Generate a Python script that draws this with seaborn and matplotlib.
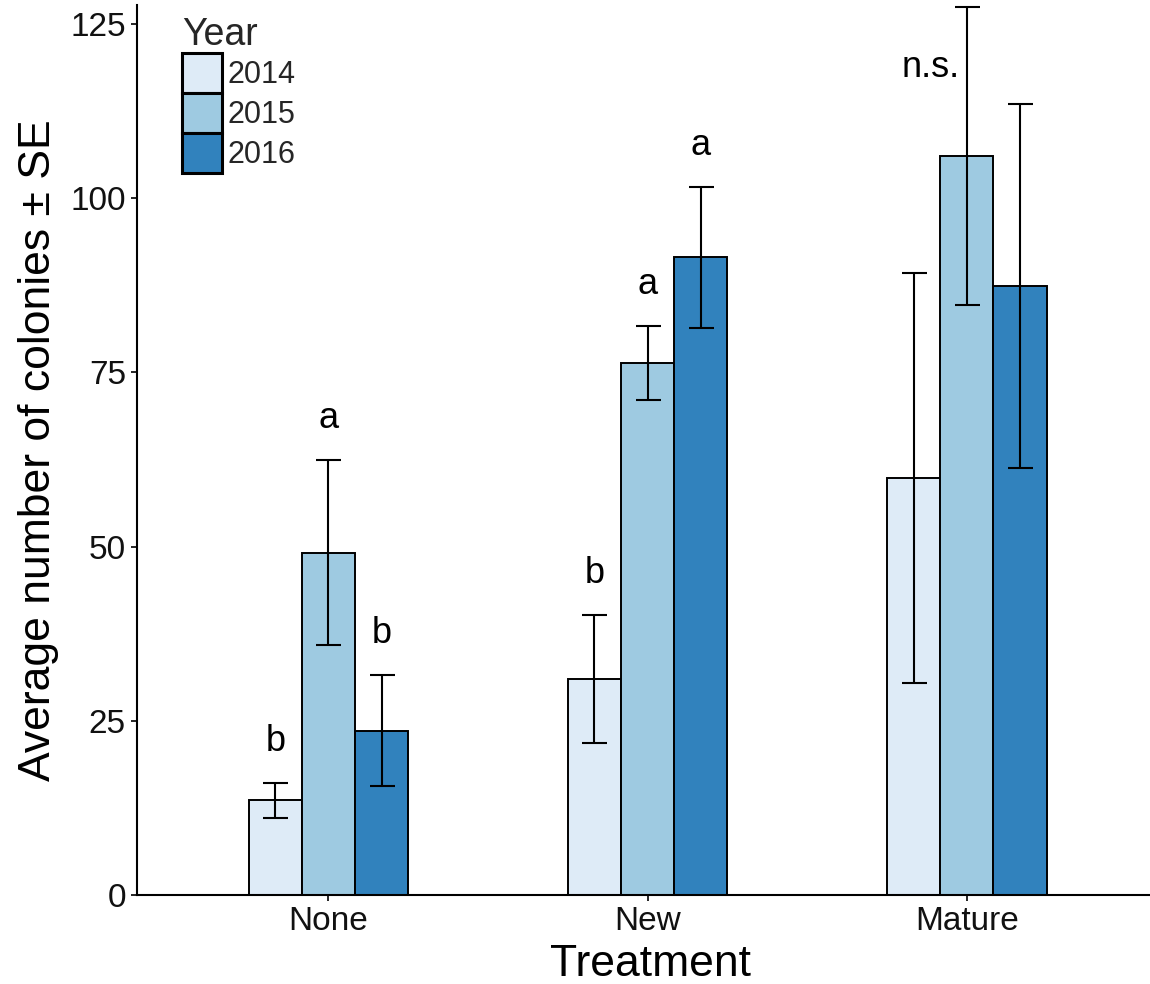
import numpy as np
import pandas as pd
import matplotlib
matplotlib.use("Agg")
import matplotlib.pyplot as plt
import seaborn as sns
from matplotlib.patches import Patch

# ---- data ----
treatments = ["None", "New", "Mature"]
years = ["2014", "2015", "2016"]
means_2014 = [13.6, 31.0, 59.8]
means_2015 = [49.1, 76.3, 106.0]
means_2016 = [23.6, 91.5, 87.4]
se_2014 = [2.5, 9.2, 29.4]
se_2015 = [13.3, 5.3, 21.4]
se_2016 = [8.0, 10.1, 26.1]
letters_2014 = ["b", "b", ""]
letters_2015 = ["a", "a", ""]
letters_2016 = ["b", "a", ""]
group_notes = ["", "", "n.s."]
yticks = [0, 25, 50, 75, 100, 125]
colors = ["#DEEBF7", "#9ECAE1", "#3182BD"]

sns.set_theme(style="white")
plt.rcParams["font.family"] = ["Liberation Sans", "DejaVu Sans"]

rows = []
for yr, m, s, l in zip(years, [means_2014, means_2015, means_2016],
                       [se_2014, se_2015, se_2016],
                       [letters_2014, letters_2015, letters_2016]):
    for t, mv, sv, lv in zip(treatments, m, s, l):
        rows.append({"Treatment": t, "Year": yr, "Mean": mv, "SE": sv, "Letter": lv})
df = pd.DataFrame(rows)

W, H = 1150, 984
fig = plt.figure(figsize=(W / 100, H / 100), dpi=100)
ax = fig.add_axes([137 / W, 89 / H, (W - 137) / W, 890 / H])

sns.barplot(data=df, x="Treatment", y="Mean", hue="Year", order=treatments,
            hue_order=years, palette=colors, saturation=1, width=0.5,
            edgecolor="black", linewidth=1.4, errorbar=None, legend=False, ax=ax)

# bar centres from the drawn patches (sorted left to right)
bars = sorted([p for p in ax.patches if p.get_height() > 0],
              key=lambda p: p.get_x())
order = []
for t in treatments:
    for yr in years:
        order.append(df[(df.Treatment == t) & (df.Year == yr)].iloc[0])
xc = np.array([b.get_x() + b.get_width() / 2 for b in bars])
mv = np.array([r.Mean for r in order])
sv = np.array([r.SE for r in order])
lv = [r.Letter for r in order]

ax.errorbar(xc, mv, yerr=sv, fmt="none", ecolor="black", elinewidth=1.5,
            capsize=9, capthick=1.5, zorder=5)

for x, m, s, l in zip(xc, mv, sv, lv):
    if l:
        ax.text(x, m + s + 4.6, l, ha="center", va="baseline", fontsize=26,
                color="black")

for gi, note in enumerate(group_notes):
    if note:
        gx = xc[gi * 3:(gi + 1) * 3].mean()
        ax.text(gx - 0.113, 117.4, note, ha="center", va="baseline",
                fontsize=26, color="black")

ax.set_xlim(-0.6, 2.574)
ax.set_ylim(0, 127.7)
ax.set_yticks(yticks)
ax.set_yticklabels([str(v) for v in yticks])

for sp in ["top", "right"]:
    ax.spines[sp].set_visible(False)
for sp in ["left", "bottom"]:
    ax.spines[sp].set_color("black")
    ax.spines[sp].set_linewidth(1.5)

ax.tick_params(axis="both", which="major", labelsize=24, length=4, width=1.2,
               color="black", labelcolor="#111111", direction="out", pad=4,
               bottom=True, left=True)

ax.set_xlabel("Treatment", fontsize=32, labelpad=0, color="black")
ax.set_ylabel("Average number of colonies \u00b1 SE", fontsize=32, labelpad=8,
              color="black")
ax.xaxis.set_label_coords(0.507, -0.055)

handles = [Patch(facecolor=c, edgecolor="black", linewidth=2.2, label=y)
           for c, y in zip(colors, years)]
leg = ax.legend(handles=handles, title="Year", loc="upper left",
                bbox_to_anchor=(182 / W, 1 - 17 / H),
                bbox_transform=fig.transFigure, frameon=False, fontsize=22,
                title_fontsize=27, handlelength=1.31, handleheight=1.64,
                labelspacing=0, handletextpad=0.17, borderpad=0,
                borderaxespad=0, alignment="left")

fig.savefig("out.png", dpi=100)
